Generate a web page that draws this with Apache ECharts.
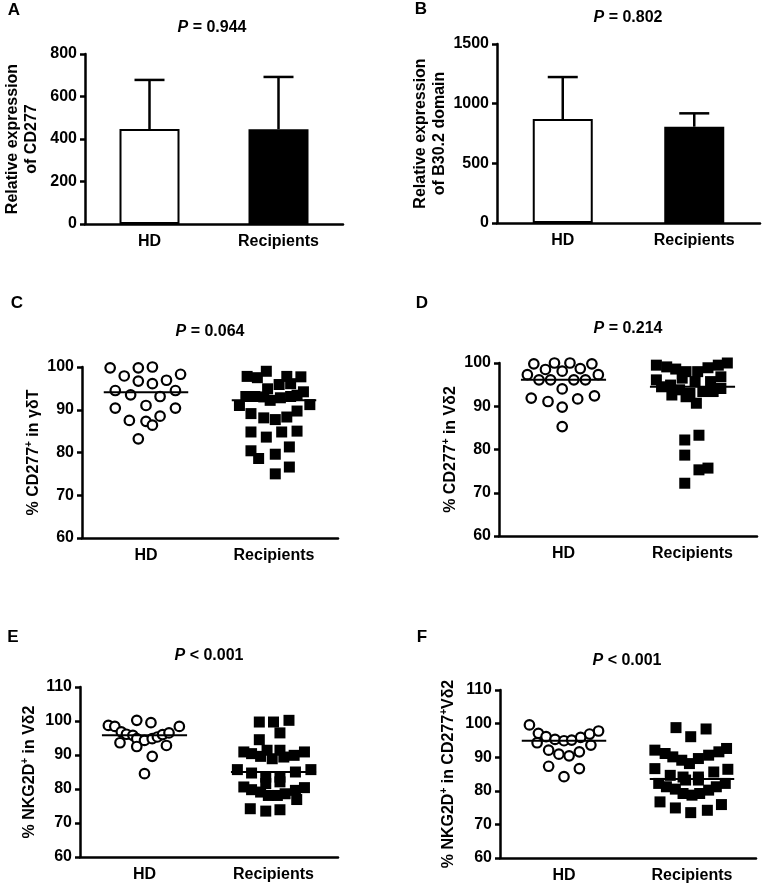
<!DOCTYPE html>
<html>
<head>
<meta charset="utf-8">
<title>CD277 / NKG2D</title>
<script src="https://cdn.jsdelivr.net/npm/echarts@6/dist/echarts.min.js"></script>
<style>
  html, body { margin: 0; padding: 0; background: #fff; }
  #main { width: 765px; height: 892px; }
</style>
</head>
<body>
<div id="main"></div>
<script>
// categories
var groups = ['HD', 'Recipients'];

// A, B: mean and SD (bars + error bars)
var meanA = [447, 446];
var sdA = [231, 246];
var meanB = [871, 807];
var sdB = [352, 112];

// C-F: each point is [horizontal scatter offset, value]
var hdC = [[-0.28, 99.8], [-0.17, 97.9], [-0.06, 99.8], [0.05, 100], [0.27, 98.3], [-0.06, 96.7], [0.05, 96.1],
  [0.16, 96.9], [-0.24, 94.5], [-0.12, 93.5], [0.11, 93.1], [0.23, 94.5], [-0.24, 90.4], [0, 91.0], [0.23, 90.4],
  [-0.13, 87.5], [0, 87.3], [0.05, 86.4], [0.11, 88.5], [-0.06, 83.2]];
var recC = [[-0.21, 97.8], [-0.13, 97.5], [-0.06, 99], [0.10, 97.8], [0.21, 97.7], [-0.05, 94.9], [0.04, 95.9],
  [0.13, 96.1], [-0.22, 93.1], [-0.15, 93.1], [-0.08, 93.0], [-0.03, 92.2], [0.05, 92.8], [0.13, 93.1], [0.18, 93.4],
  [0.23, 94.2], [-0.27, 91.0], [0.28, 91.2], [-0.18, 89.1], [-0.08, 88.1], [0.01, 87.7], [0.10, 88.3], [0.18, 89.7],
  [-0.18, 84.8], [-0.06, 83.6], [0.06, 84.8], [0.18, 85.0], [-0.18, 80.4], [-0.12, 78.6], [0.01, 79.6], [0.12, 81.3],
  [0.01, 75.0], [0.12, 76.6]];
var hdD = [[-0.23, 99.8], [-0.07, 100], [0.05, 100], [0.22, 99.8], [-0.28, 97.3], [-0.14, 98.5], [-0.01, 98.1],
  [0.13, 98.7], [0.27, 97.3], [-0.19, 96.1], [-0.10, 96.1], [0.08, 96.1], [0.17, 96.1], [-0.01, 94.0], [-0.25, 91.9],
  [-0.12, 91.1], [0.11, 91.7], [0.24, 92.4], [-0.01, 89.8], [-0.01, 85.3]];
var recD = [[-0.28, 99.5], [-0.20, 99.1], [-0.13, 98.6], [-0.05, 98.0], [0.04, 98.0], [0.12, 98.9], [0.20, 99.5],
  [0.27, 100], [-0.28, 96.1], [-0.24, 94.5], [-0.17, 94.9], [-0.10, 93.8], [-0.02, 93.0], [0.03, 90.7], [0.08, 93.4],
  [0.16, 93.4], [0.22, 94.1], [0.22, 96.8], [0.14, 95.7], [-0.08, 96.5], [0.02, 95.7], [-0.16, 92.6], [-0.05, 92.2],
  [-0.06, 82.2], [0.05, 83.3], [-0.06, 78.7], [0.05, 75.3], [0.12, 75.7], [-0.06, 72.2]];
var hdE = [[-0.28, 98.7], [-0.23, 98.4], [-0.18, 96.8], [-0.14, 96.1], [-0.09, 95.8], [-0.06, 94.8], [0, 94.3],
  [0.06, 94.8], [0.10, 95.3], [0.14, 96.0], [0.19, 96.5], [0.27, 98.4], [-0.06, 100.2], [0.05, 99.5], [-0.19, 93.6],
  [-0.06, 92.5], [0.17, 92.8], [0.06, 89.6], [0, 84.5]];
var recE = [[-0.11, 99.7], [0, 99.7], [0.12, 100.2], [0.05, 96.5], [-0.11, 94.5], [-0.23, 90.9], [-0.17, 90.4],
  [-0.10, 89.6], [-0.05, 91.4], [-0.01, 88.9], [0.05, 91.4], [0.08, 89.4], [0.16, 89.9], [0.24, 90.9], [-0.28, 85.7],
  [-0.17, 84.7], [0.17, 85.0], [0.29, 85.7], [-0.06, 83.5], [0.05, 83.5], [-0.06, 81.6], [0.05, 82.1], [-0.23, 80.6],
  [-0.17, 79.8], [-0.10, 79.1], [-0.04, 78.1], [0.03, 78.1], [0.09, 78.6], [0.17, 79.6], [0.24, 80.4], [0.18, 76.9],
  [-0.18, 74.2], [-0.06, 73.5], [0.05, 73.9]];
var hdF = [[-0.27, 99.6], [-0.20, 97.1], [-0.14, 96.1], [-0.07, 95.3], [0, 94.9], [0.06, 95.1], [0.13, 95.9],
  [0.20, 96.9], [0.27, 97.8], [-0.21, 94.3], [0.21, 93.6], [-0.12, 92.1], [-0.04, 90.9], [0.04, 90.4], [0.12, 91.6],
  [-0.12, 87.3], [0.12, 86.6], [0, 84.2]];
var recF = [[-0.125, 98.8], [-0.01, 96.1], [0.11, 98.4], [-0.29, 92.1], [-0.21, 91.1], [-0.15, 90.1], [-0.08, 89.1],
  [-0.02, 88.1], [0.05, 89.6], [0.13, 90.6], [0.21, 91.6], [0.27, 92.6], [-0.29, 86.6], [-0.17, 84.6], [-0.07, 84.1],
  [0.05, 84.1], [0.17, 85.6], [0.28, 86.4], [-0.26, 82.2], [-0.20, 81.2], [-0.13, 80.5], [-0.07, 79.2], [0, 78.7],
  [0.06, 79.2], [0.13, 80.2], [0.19, 81.2], [0.26, 82.2], [-0.05, 83.2], [0.05, 83.2], [-0.25, 76.7], [-0.13, 74.9],
  [-0.01, 73.5], [0.12, 74.2], [0.23, 75.9]];

// medians [HD, Recipients]
var medC = [94.1, 92.2];
var medD = [96.1, 94.5];
var medE = [95.8, 85.0];
var medF = [94.9, 83.5];

// p values and axis names
var pText = ['{i|P} = 0.944', '{i|P} = 0.802', '{i|P} = 0.064', '{i|P} = 0.214', '{i|P} < 0.001', '{i|P} < 0.001'];
var panelLetters = ['A', 'B', 'C', 'D', 'E', 'F'];
var yNames = [
  'Relative expression\nof CD277',
  'Relative expression\nof B30.2 domain',
  '% CD277{sup|+} in γδT',
  '% CD277{sup|+} in Vδ2',
  '% NKG2D{sup|+} in Vδ2',
  '% NKG2D{sup|+} in CD277{sup|+}Vδ2'
];
var yMin = [0, 0, 60, 60, 60, 60];
var yMax = [800, 1500, 100, 100, 110, 110];
var yStep = [200, 500, 10, 10, 10, 10];

var FONT = 'Liberation Sans, Arial, sans-serif';

var grids = [
  { left: 85, top: 54, width: 258, height: 170 },
  { left: 497, top: 44, width: 263, height: 179 },
  { left: 82, top: 367, width: 256, height: 171 },
  { left: 499, top: 363, width: 258, height: 173 },
  { left: 80, top: 687, width: 258, height: 170 },
  { left: 500, top: 690, width: 256, height: 168 }
];
var nameGaps = [44, 47, 38, 39, 41, 42];
var titlePos = [[212, 28], [628, 18], [210, 332], [628, 329], [209, 656], [627, 661]];
var letterPos = [[14, 10], [421, 9], [17, 303], [422, 303], [13, 637], [422, 637]];

var black = { color: '#000', width: 2.5 };

var xAxes = [], yAxes = [], series = [], graphics = [];

for (var g = 0; g < 6; g++) {
  xAxes.push({
    type: 'category', gridIndex: g, data: groups,
    axisLine: { lineStyle: black },
    axisTick: { alignWithLabel: true, length: 5, lineStyle: black },
    axisLabel: { color: '#000', fontSize: 16, fontWeight: 'bold', fontFamily: FONT, margin: 10 }
  });
  yAxes.push({
    type: 'value', gridIndex: g, min: yMin[g], max: yMax[g], interval: yStep[g],
    name: yNames[g], nameLocation: 'middle', nameGap: nameGaps[g], nameRotate: 90,
    nameTextStyle: {
      color: '#000', fontSize: 16, fontWeight: 'bold', fontFamily: FONT, lineHeight: 19,
      rich: { sup: { fontSize: 10, fontWeight: 'bold', fontFamily: FONT, color: '#000', verticalAlign: 'top', lineHeight: 19 } }
    },
    axisLine: { show: true, lineStyle: black },
    axisTick: { show: true, length: 5, lineStyle: black },
    axisLabel: {
      color: '#000', fontSize: 16, fontWeight: 'bold', fontFamily: FONT, margin: 8,
      formatter: function (v) { return String(v); }
    },
    splitLine: { show: false }
  });
  graphics.push({
    type: 'text', x: titlePos[g][0], y: titlePos[g][1],
    style: {
      text: pText[g], fill: '#000', font: 'bold 16px ' + FONT, align: 'center', verticalAlign: 'middle',
      rich: { i: { fontStyle: 'italic', fontWeight: 'bold', fontSize: 16, fontFamily: FONT } }
    }
  });
  graphics.push({
    type: 'text', x: letterPos[g][0], y: letterPos[g][1],
    style: { text: panelLetters[g], fill: '#000', font: 'bold 17px ' + FONT, align: 'center', verticalAlign: 'middle' }
  });
}

// hidden value x-axes for the dot plots (HD at 0.5, Recipients at 1.5)
for (var k = 2; k < 6; k++) {
  xAxes.push({ type: 'value', gridIndex: k, min: 0, max: 2, show: false });
}

// bar panels
function barSeries(gi, means, sds) {
  series.push({
    type: 'bar', xAxisIndex: gi, yAxisIndex: gi, barWidth: 60,
    data: means.map(function (v, i) {
      return {
        value: v,
        itemStyle: i === 0 ? { color: '#fff', borderColor: '#000', borderWidth: 2 } : { color: '#000', borderColor: '#000', borderWidth: 2 }
      };
    }),
    silent: true
  });
  series.push({
    type: 'custom', xAxisIndex: gi, yAxisIndex: gi, z: 5,
    data: means.map(function (v, i) { return [i, v, sds[i]]; }),
    renderItem: function (params, api) {
      var base = api.coord([api.value(0), api.value(1)]);
      var top = api.coord([api.value(0), api.value(1) + api.value(2)]);
      var st = { stroke: '#000', lineWidth: 2.5 };
      return {
        type: 'group', children: [
          { type: 'line', shape: { x1: base[0], y1: base[1], x2: top[0], y2: top[1] }, style: st },
          { type: 'line', shape: { x1: top[0] - 15, y1: top[1], x2: top[0] + 15, y2: top[1] }, style: st }
        ]
      };
    }
  });
}
barSeries(0, meanA, sdA);
barSeries(1, meanB, sdB);

// dot plots
function dotSeries(gi, xi, hd, rec, med) {
  series.push({
    type: 'scatter', xAxisIndex: xi, yAxisIndex: gi, symbol: 'circle', symbolSize: 9.5,
    itemStyle: { color: '#fff', borderColor: '#000', borderWidth: 2.2, opacity: 1 },
    data: hd.map(function (p) { return [0.5 + p[0], p[1]]; })
  });
  series.push({
    type: 'scatter', xAxisIndex: xi, yAxisIndex: gi, symbol: 'rect', symbolSize: 11,
    itemStyle: { color: '#000', opacity: 1 },
    data: rec.map(function (p) { return [1.5 + p[0], p[1]]; })
  });
  series.push({
    type: 'custom', xAxisIndex: xi, yAxisIndex: gi, z: 5,
    data: med.map(function (m, i) { return [0.5 + i, m]; }),
    renderItem: function (params, api) {
      var a = api.coord([api.value(0) - 0.33, api.value(1)]);
      var b = api.coord([api.value(0) + 0.33, api.value(1)]);
      return { type: 'line', shape: { x1: a[0], y1: a[1], x2: b[0], y2: b[1] }, style: { stroke: '#000', lineWidth: 2 } };
    }
  });
}
dotSeries(2, 6, hdC, recC, medC);
dotSeries(3, 7, hdD, recD, medD);
dotSeries(4, 8, hdE, recE, medE);
dotSeries(5, 9, hdF, recF, medF);

var myChart = echarts.init(document.getElementById('main'));
myChart.setOption({
  animation: false,
  backgroundColor: '#fff',
  grid: grids,
  xAxis: xAxes,
  yAxis: yAxes,
  series: series,
  graphic: graphics
});
</script>
</body>
</html>
